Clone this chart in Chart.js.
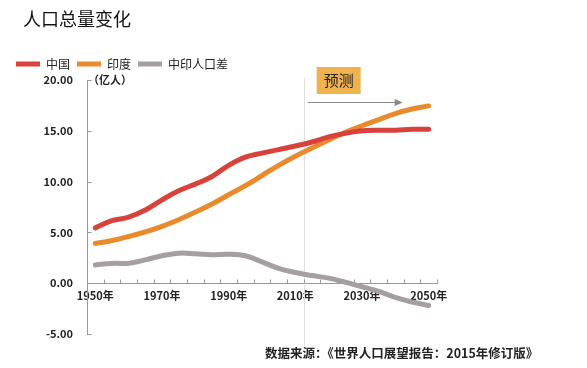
<!DOCTYPE html>
<html>
<head>
<meta charset="utf-8">
<script src="https://cdn.jsdelivr.net/npm/chart.js@4"></script>
<style>
  body { margin: 0; background: #fff; }
  #wrap { position: relative; width: 587px; height: 368px; }
  #title { position: absolute; left: 23px; top: 5px; font: 18px "Noto Sans CJK SC", sans-serif; color: #111; }
  #source { position: absolute; left: 265px; top: 343px; font: bold 12.5px "Noto Sans CJK SC", sans-serif; color: #222; }
</style>
</head>
<body>
<div id="wrap">
  <canvas id="popChart" width="587" height="368"></canvas>
  <div id="title">人口总量变化</div>
  <div id="source">数据来源：《世界人口展望报告：2015年修订版》</div>
</div>
<script>
// Population data (hundred millions)
const years = [1950, 1955, 1960, 1965, 1970, 1975, 1980, 1985, 1990, 1995, 2000,
               2005, 2010, 2015, 2020, 2025, 2030, 2035, 2040, 2045, 2050];
const chinaPop = [5.45, 6.15, 6.5, 7.2, 8.2, 9.1, 9.75, 10.5, 11.6, 12.4, 12.8,
                  13.15, 13.5, 13.9, 14.4, 14.75, 15.0, 15.05, 15.05, 15.15, 15.15];
const indiaPop = [3.9, 4.2, 4.6, 5.05, 5.6, 6.25, 7.0, 7.8, 8.7, 9.6, 10.6,
                  11.6, 12.5, 13.3, 14.1, 14.85, 15.5, 16.1, 16.7, 17.15, 17.45];
const diffPop = [1.8, 1.95, 1.95, 2.3, 2.7, 2.95, 2.9, 2.8, 2.85, 2.7, 2.1,
                 1.45, 1.05, 0.75, 0.5, 0.1, -0.35, -0.8, -1.4, -1.85, -2.2];
const seriesNames = ['中国', '印度', '中印人口差'];
const xLabelYears = [1950, 1970, 1990, 2010, 2030, 2050];
const forecastStart = 2012.5;

const tickFont = { family: '"Noto Sans CJK SC", sans-serif', size: 11, weight: 'bold' };

function toPoints(values) {
    return years.map((y, i) => ({ x: y, y: values[i] }));
}

// extra decorations: axis tick marks, forecast line, unit label, forecast box
const decorations = {
    id: 'decorations',
    beforeDatasetsDraw(chart) {
        const { ctx, chartArea, scales: { x, y } } = chart;
        ctx.save();
        // forecast divider
        const fx = Math.round(x.getPixelForValue(forecastStart)) + 0.5;
        ctx.strokeStyle = '#e2dede';
        ctx.lineWidth = 1;
        ctx.beginPath();
        ctx.moveTo(fx, chartArea.top - 2);
        ctx.lineTo(fx, chartArea.bottom + 12);
        ctx.stroke();

        // tick marks
        ctx.strokeStyle = '#999';
        const y0 = Math.round(y.getPixelForValue(0)) + 0.5;
        for (let v = 1947.5; v <= 2052.5; v += 5) {
            const px = Math.round(x.getPixelForValue(v)) + 0.5;
            ctx.beginPath();
            ctx.moveTo(px, y0);
            ctx.lineTo(px, y0 - 4);
            ctx.stroke();
        }
        const ax = Math.round(chartArea.left) + 0.5;
        for (let v = -5; v <= 20; v += 5) {
            const py = Math.round(y.getPixelForValue(v)) + 0.5;
            ctx.beginPath();
            ctx.moveTo(ax, py);
            ctx.lineTo(ax + 4, py);
            ctx.stroke();
        }

        // unit
        ctx.fillStyle = '#222';
        ctx.font = 'bold 11px "Noto Sans CJK SC", sans-serif';
        ctx.textBaseline = 'middle';
        ctx.fillText('（亿人）', chartArea.left + 1, chartArea.top);
        ctx.restore();
    },
    afterDatasetsDraw(chart) {
        const { ctx, chartArea, scales: { x } } = chart;
        ctx.save();
        // forecast label box
        const bx1 = x.getPixelForValue(2016.4);
        const bx2 = x.getPixelForValue(2029.6);
        ctx.fillStyle = '#f0b24c';
        ctx.fillRect(bx1, chartArea.top - 13, bx2 - bx1, 27);
        ctx.fillStyle = '#222';
        ctx.font = '15px "Noto Sans CJK SC", sans-serif';
        ctx.textAlign = 'center';
        ctx.textBaseline = 'middle';
        ctx.fillText('预测', (bx1 + bx2) / 2, chartArea.top + 0.5);

        // arrow
        const ax1 = x.getPixelForValue(2013.7);
        const ax2 = x.getPixelForValue(2042.2);
        const ay = chartArea.top + 22.5;
        ctx.strokeStyle = '#888';
        ctx.fillStyle = '#888';
        ctx.lineWidth = 1;
        ctx.beginPath();
        ctx.moveTo(ax1, ay);
        ctx.lineTo(ax2 - 5, ay);
        ctx.stroke();
        ctx.beginPath();
        ctx.moveTo(ax2, ay);
        ctx.lineTo(ax2 - 8, ay - 3.5);
        ctx.lineTo(ax2 - 8, ay + 3.5);
        ctx.closePath();
        ctx.fill();
        ctx.restore();
    }
};

const lineStyle = {
    borderWidth: 5,
    pointRadius: 0,
    tension: 0.4,
    borderCapStyle: 'round',
    borderJoinStyle: 'round'
};

new Chart(document.getElementById('popChart').getContext('2d'), {
    type: 'line',
    data: {
        datasets: [
            { label: seriesNames[0], data: toPoints(chinaPop), borderColor: '#d9423a', backgroundColor: '#d9423a', ...lineStyle },
            { label: seriesNames[1], data: toPoints(indiaPop), borderColor: '#e98a2c', backgroundColor: '#e98a2c', ...lineStyle },
            { label: seriesNames[2], data: toPoints(diffPop), borderColor: '#a59f9f', backgroundColor: '#a59f9f', ...lineStyle }
        ]
    },
    options: {
        responsive: false,
        animation: false,
        layout: { padding: { top: 44, left: 9, right: 150, bottom: 34 } },
        plugins: {
            title: { display: false },
            tooltip: { enabled: false },
            legend: {
                position: 'top',
                align: 'start',
                labels: {
                    boxWidth: 24,
                    boxHeight: 5,
                    padding: 7,
                    color: '#222',
                    font: { family: '"Noto Sans CJK SC", sans-serif', size: 12 },
                    generateLabels(chart) {
                        const items = Chart.defaults.plugins.legend.labels.generateLabels(chart);
                        items.forEach(item => { item.lineWidth = 0; });
                        return items;
                    }
                }
            }
        },
        scales: {
            x: {
                type: 'linear',
                position: { y: 0 },
                min: 1947.5,
                max: 2052.5,
                afterBuildTicks(scale) {
                    scale.ticks = xLabelYears.map(v => ({ value: v }));
                },
                grid: { display: false, drawTicks: false },
                border: { display: true, color: '#999', width: 1 },
                ticks: {
                    autoSkip: false,
                    maxRotation: 0,
                    padding: 6,
                    color: '#222',
                    font: tickFont,
                    callback: v => v + '年'
                }
            },
            y: {
                min: -5,
                max: 20,
                afterFit(scale) {
                    scale.width = 78;
                    scale.paddingTop = 80; // push plot top below the legend
                },
                grid: { display: false, drawTicks: false },
                border: { display: true, color: '#999', width: 1 },
                ticks: {
                    stepSize: 5,
                    padding: 14,
                    color: '#222',
                    font: tickFont,
                    callback: v => v.toFixed(2)
                }
            }
        }
    },
    plugins: [decorations]
});
</script>
</body>
</html>
